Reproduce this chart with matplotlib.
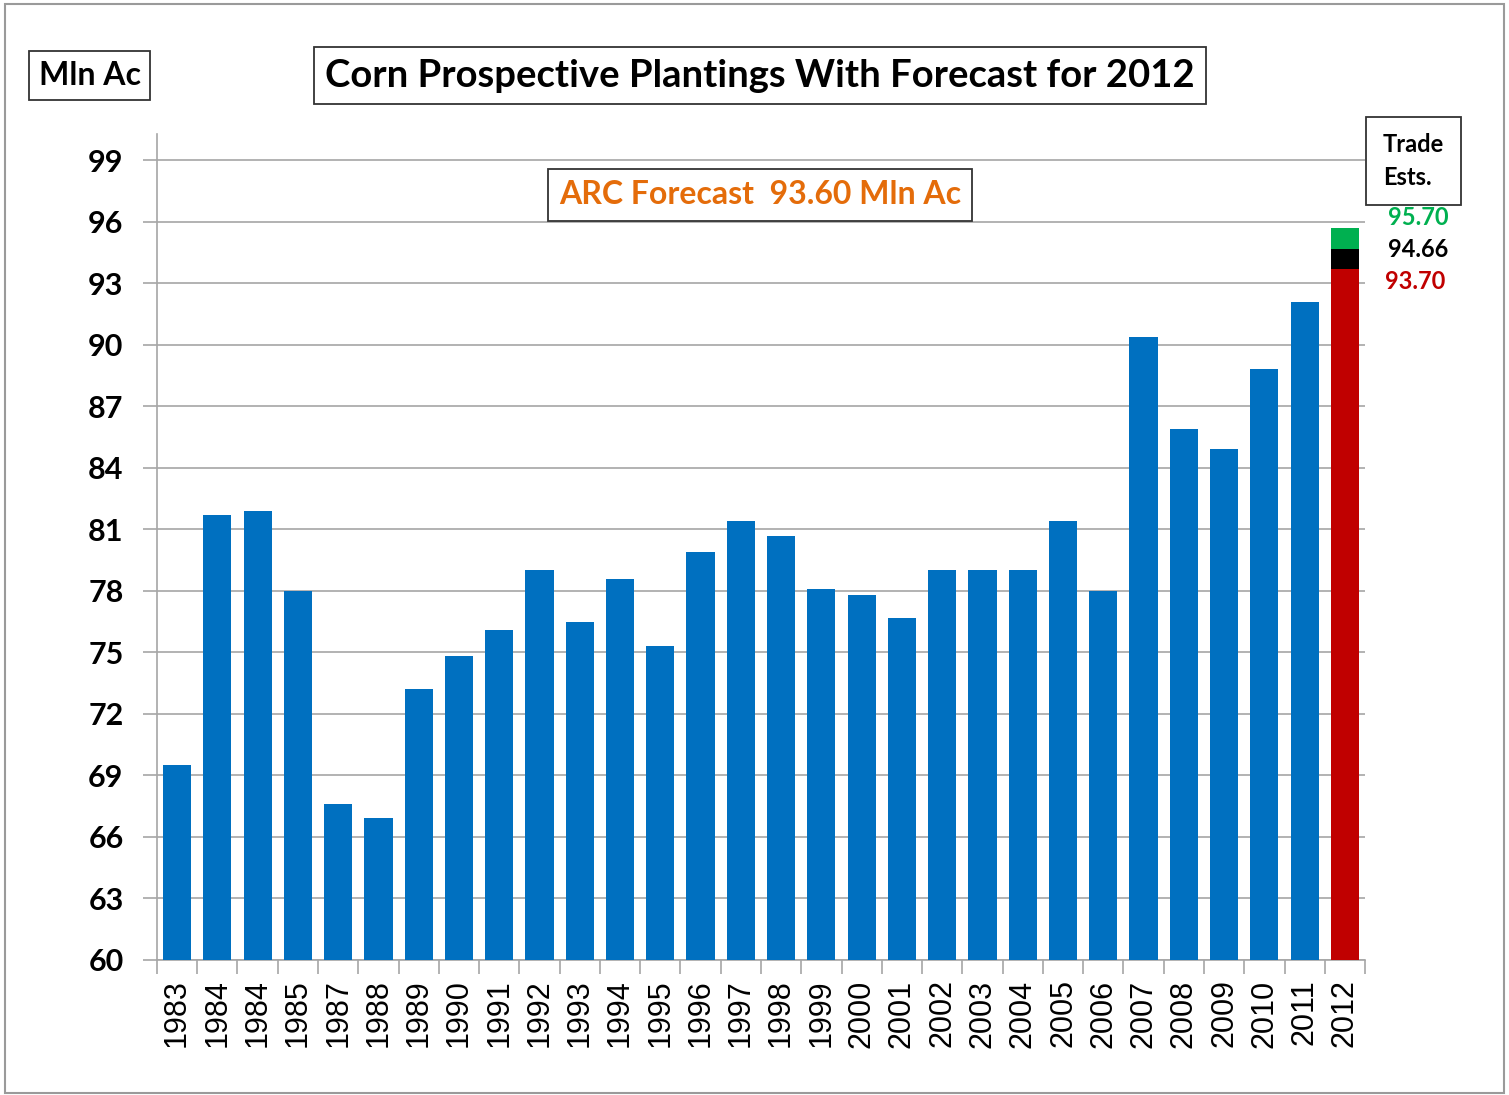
import numpy as np
import matplotlib.pyplot as plt
from matplotlib.patches import Rectangle

plt.rcParams['font.family'] = ['Lato', 'DejaVu Sans']

# planted area, million acres
years = ['1983', '1984', '1984', '1985', '1987', '1988', '1989', '1990', '1991',
         '1992', '1993', '1994', '1995', '1996', '1997', '1998', '1999', '2000',
         '2001', '2002', '2003', '2004', '2005', '2006', '2007', '2008', '2009',
         '2010', '2011', '2012']
acres = [69.5, 81.7, 81.9, 78.0, 67.6, 66.9, 73.2, 74.8, 76.1, 79.0, 76.5, 78.6,
         75.3, 79.9, 81.4, 80.7, 78.1, 77.8, 76.7, 79.0, 79.0, 79.0, 81.4, 78.0,
         90.4, 85.9, 84.9, 88.8, 92.1]

# 2012 trade estimates: low / average / high
est_low = 93.70
est_avg = 94.66
est_high = 95.70
arc_forecast = 93.60

blue = '#0070C0'
red = '#C00000'
green = '#00B050'
orange = '#E46C0A'
grid_c = '#A6A6A6'

fig = plt.figure(figsize=(15.09, 10.95), dpi=100)
ax = fig.add_axes([0.104, 0.1233, 0.8006, 0.7547])

base = 60
x = np.arange(len(years))
ax.bar(x[:-1], np.array(acres) - base, bottom=base, width=0.7, color=blue, zorder=3)
last = x[-1]
ax.bar(last, est_low - base, bottom=base, width=0.7, color=red, zorder=3)
ax.bar(last, est_avg - est_low, bottom=est_low, width=0.7, color='black', zorder=3)
ax.bar(last, est_high - est_avg, bottom=est_avg, width=0.7, color=green, zorder=3)

ax.set_ylim(60, 100.3)
ax.set_xlim(-0.5, len(years) - 0.5)
ax.set_yticks(np.arange(60, 100, 3))
ax.yaxis.grid(True, color=grid_c, linewidth=1.2, zorder=0)
ax.tick_params(axis='y', length=10, color=grid_c, width=1.2, labelsize=22, pad=14)
for lab in ax.get_yticklabels():
    lab.set_fontweight('bold')

ax.set_xticks(x)
ax.set_xticklabels(years, rotation=90, fontsize=22, family='Liberation Sans')
ax.set_xticks(np.arange(-0.5, len(years)), minor=True)
ax.tick_params(axis='x', which='major', length=0, pad=14)
ax.tick_params(axis='x', which='minor', length=10, color=grid_c, width=1.2)

for side in ['top', 'right']:
    ax.spines[side].set_visible(False)
for side in ['left', 'bottom']:
    ax.spines[side].set_color(grid_c)
    ax.spines[side].set_linewidth(1.2)

edge = '#333333'
fig.text(0.5037, 0.931, 'Corn Prospective Plantings With Forecast for 2012',
         ha='center', va='center', fontsize=27.5, fontweight='bold',
         bbox=dict(boxstyle='square,pad=0.3', facecolor='white', edgecolor=edge, linewidth=1.3))
fig.text(0.0594, 0.931, 'Mln Ac', ha='center', va='center', fontsize=23,
         fontweight='bold',
         bbox=dict(boxstyle='square,pad=0.3', facecolor='white', edgecolor=edge, linewidth=1.3))
fig.text(0.5037, 0.822, f'ARC Forecast  {arc_forecast:.2f} Mln Ac', ha='center',
         va='center', fontsize=23, fontweight='bold', color=orange,
         bbox=dict(boxstyle='square,pad=0.35', facecolor='white', edgecolor=edge, linewidth=1.3))
fig.text(0.9367, 0.853, 'Trade\nEsts.', ha='center', va='center', fontsize=17,
         fontweight='bold', linespacing=1.5, multialignment='left',
         bbox=dict(boxstyle='square,pad=0.7', facecolor='white', edgecolor=edge, linewidth=1.3))

fig.text(0.940, 0.801, f'{est_high:.2f}', ha='center', va='center', fontsize=17,
         fontweight='bold', color=green)
fig.text(0.940, 0.772, f'{est_avg:.2f}', ha='center', va='center', fontsize=17,
         fontweight='bold', color='black')
fig.text(0.938, 0.743, f'{est_low:.2f}', ha='center', va='center', fontsize=17,
         fontweight='bold', color=red)

# outer frame
fig.add_artist(Rectangle((0.003, 0.002), 0.994, 0.994, transform=fig.transFigure,
                         fill=False, edgecolor='#9A9A9A', linewidth=1.5))

fig.savefig('out.png', dpi=100)
